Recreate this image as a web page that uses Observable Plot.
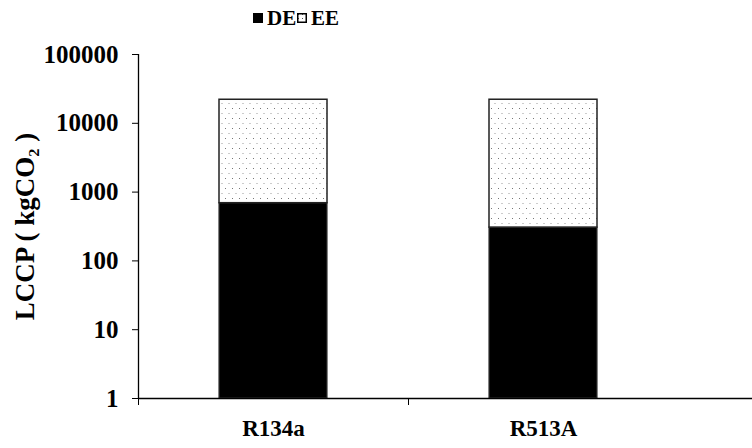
<!DOCTYPE html>
<html><head><meta charset="utf-8">
<script src="https://cdn.jsdelivr.net/npm/d3@7"></script>
<script src="https://cdn.jsdelivr.net/npm/@observablehq/plot@0.6"></script>
<style>
body{margin:0;background:#fff;font-family:"Liberation Serif","Times New Roman",serif;}
#legend{position:relative;height:36px;width:752px;}
#legend .item{position:absolute;top:5px;display:flex;align-items:center;font-weight:bold;font-size:21px;line-height:26px;color:#000;}
#legend svg{margin-right:4px;}
</style></head><body>
<div id="legend"></div>
<div id="chart"></div>
<script>
const categories = ["R134a", "R513A"];
const deValues = [690, 305];
const eeValues = [21300, 21700];
const yTicks = [1, 10, 100, 1000, 10000, 100000];
const seriesNames = ["DE", "EE"];

const rows = categories.map((c, i) => ({cat: c, i, de: deValues[i], ee: eeValues[i], total: deValues[i] + eeValues[i]}));

const fam = '"Liberation Serif", "Times New Roman", serif';

const svg = Plot.plot({
  width: 752,
  height: 412,
  marginTop: 18,
  marginBottom: 50,
  marginLeft: 138,
  marginRight: 74,
  style: {fontFamily: fam, fontWeight: "bold", color: "black", background: "white"},
  x: {type: "linear", domain: [0, categories.length]},
  y: {type: "log", domain: [1, 100000]},
  marks: [
    Plot.rectY(rows, {x1: d => d.i + 0.3, x2: d => d.i + 0.7, y1: d => 1, y2: "de", fill: "black", stroke: "#333", strokeWidth: 1.2}),
    Plot.rectY(rows, {x1: d => d.i + 0.3, x2: d => d.i + 0.7, y1: "de", y2: "total", fill: "url(#dots)", stroke: "#222", strokeWidth: 1.5}),
    Plot.ruleX([0], {y1: d => 1, y2: d => 100000, stroke: "black", strokeWidth: 1.3}),
    Plot.ruleY([1], {stroke: "black", strokeWidth: 1.3, insetRight: -74}),
    Plot.axisY({ticks: yTicks, tickSize: 6, tickPadding: 14, tickFormat: d => String(d), fontSize: 25, fontWeight: "bold", label: null, stroke: "black"}),
    Plot.axisY({ticks: [], label: "LCCP ( kgCO₂ )", labelAnchor: "center", labelArrow: "none", labelOffset: 124, fontSize: 27, fontWeight: "bold"}),
    Plot.axisX({ticks: [0, 1], tickSize: 7, tickFormat: () => "", label: null, stroke: "black"}),
    Plot.axisX({ticks: categories.map((c, i) => i + 0.5), tickSize: 0, tickPadding: 21, tickFormat: d => categories[Math.floor(d)], fontSize: 23, fontWeight: "bold", label: null})
  ]
});

d3.select(svg).insert("defs", ":first-child").html(
  '<pattern id="dots" patternUnits="userSpaceOnUse" width="7" height="10">' +
  '<rect width="7" height="10" fill="white"/>' +
  '<rect x="1" y="2" width="1" height="1" fill="#777"/>' +
  '<rect x="4.5" y="7" width="1" height="1" fill="#999"/>' +
  '</pattern>');
document.getElementById("chart").appendChild(svg);

// legend
const legend = document.getElementById("legend");
const lx = [253, 297];
seriesNames.forEach((name, k) => {
  const item = document.createElement("div");
  item.className = "item";
  item.style.left = lx[k] + "px";
  const sw = k === 0
    ? '<svg width="10" height="10"><rect width="10" height="10" fill="black"/></svg>'
    : '<svg width="10" height="10"><defs><pattern id="ldots" patternUnits="userSpaceOnUse" width="4" height="4"><rect width="4" height="4" fill="white"/><rect x="1" y="1" width="1" height="1" fill="#555"/></pattern></defs><rect x="0.75" y="0.75" width="8.5" height="8.5" fill="url(#ldots)" stroke="black" stroke-width="1.5"/></svg>';
  item.innerHTML = sw + "<span>" + name + "</span>";
  legend.appendChild(item);
});
</script>
</body></html>
